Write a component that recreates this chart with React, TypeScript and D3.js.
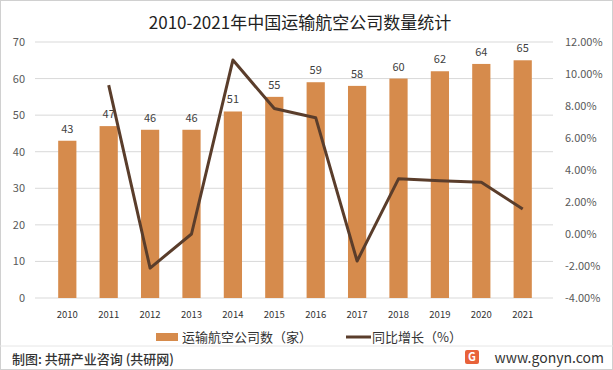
import * as d3 from 'd3';

const years = ['2010', '2011', '2012', '2013', '2014', '2015', '2016', '2017', '2018', '2019', '2020', '2021'];
const companies = [43, 47, 46, 46, 51, 55, 59, 58, 60, 62, 64, 65];
// growth in %, 2010 has no value
const growth: (number | null)[] = [null, 9.3, -2.13, 0, 10.87, 7.84, 7.27, -1.69, 3.45, 3.33, 3.23, 1.56];
const leftTicks = [0, 10, 20, 30, 40, 50, 60, 70];
const rightTicks = [-4, -2, 0, 2, 4, 6, 8, 10, 12];

const W = 613;
const H = 370;
const font = '"Noto Sans CJK SC", "Noto Sans", sans-serif';
const barColor = '#D68B4C';
const lineColor = '#5A3D2B';

export default function App() {
  const x = d3.scaleBand<string>().domain(years).range([35, 555]).padding(0.56);
  const yL = d3.scaleLinear().domain([0, 70]).range([298, 42]);
  const yR = d3.scaleLinear().domain([-4, 12]).range([298, 42]);
  const cx = (y: string) => (x(y) ?? 0) + x.bandwidth() / 2;

  const pts = years
    .map((y, i) => ({ y, v: growth[i] }))
    .filter((d) => d.v !== null) as { y: string; v: number }[];
  const line = d3.line<{ y: string; v: number }>()
    .x((d) => cx(d.y))
    .y((d) => yR(d.v));

  return (
    <div style={{ position: 'absolute', left: 0, top: 0 }}>
      <svg width={W} height={H} style={{ display: 'block', fontFamily: font }}>
        <rect x={0.5} y={0.5} width={W - 1} height={H - 1} fill="#fff" stroke="#d0d0d0" />
        <text x={300} y={29} textAnchor="middle" fontSize={17} fill="#222">
          2010-2021年中国运输航空公司数量统计
        </text>

        {leftTicks.map((t) => (
          <g key={t}>
            <line x1={35} x2={553} y1={yL(t)} y2={yL(t)} stroke="#d9d9d9" strokeWidth={1} />
            <text x={25} y={yL(t) + 4} textAnchor="end" fontSize={11} fill="#595959">{t}</text>
          </g>
        ))}
        {rightTicks.map((t) => (
          <text key={t} x={565} y={yR(t) + 4} fontSize={11} fill="#595959">
            {t.toFixed(2)}%
          </text>
        ))}

        {years.map((y, i) => (
          <g key={y}>
            <rect x={x(y)} y={yL(companies[i])} width={x.bandwidth()} height={yL(0) - yL(companies[i])} fill={barColor} />
            <text x={cx(y)} y={yL(companies[i]) - 8} textAnchor="middle" fontSize={11} fill="#404040">
              {companies[i]}
            </text>
            <text x={cx(y)} y={318} textAnchor="middle" fontSize={9.5} fill="#333">{y}</text>
          </g>
        ))}

        <path d={line(pts) ?? ''} fill="none" stroke={lineColor} strokeWidth={3} strokeLinejoin="round" />

        <rect x={156} y={333} width={22} height={8} fill={barColor} />
        <text x={182} y={342} fontSize={13} fill="#333">运输航空公司数（家）</text>
        <line x1={346} x2={371} y1={337} y2={337} stroke={lineColor} strokeWidth={3} />
        <text x={372} y={342} fontSize={13} fill="#333">同比增长（%）</text>

        <line x1={0} x2={W} y1={346} y2={346} stroke="#e6e6e6" />
        <text x={12} y={364} fontSize={13} fontWeight={500} fill="#333">制图: 共研产业咨询 (共研网)</text>
        <rect x={465} y={350} width={14} height={14} rx={2} fill="#E8623A" />
        <text x={472} y={361} textAnchor="middle" fontSize={11} fontWeight="bold" fill="#fff">G</text>
        <text x={604} y={363} textAnchor="end" fontSize={14} fill="#333">www.gonyn.com</text>
      </svg>
    </div>
  );
}
